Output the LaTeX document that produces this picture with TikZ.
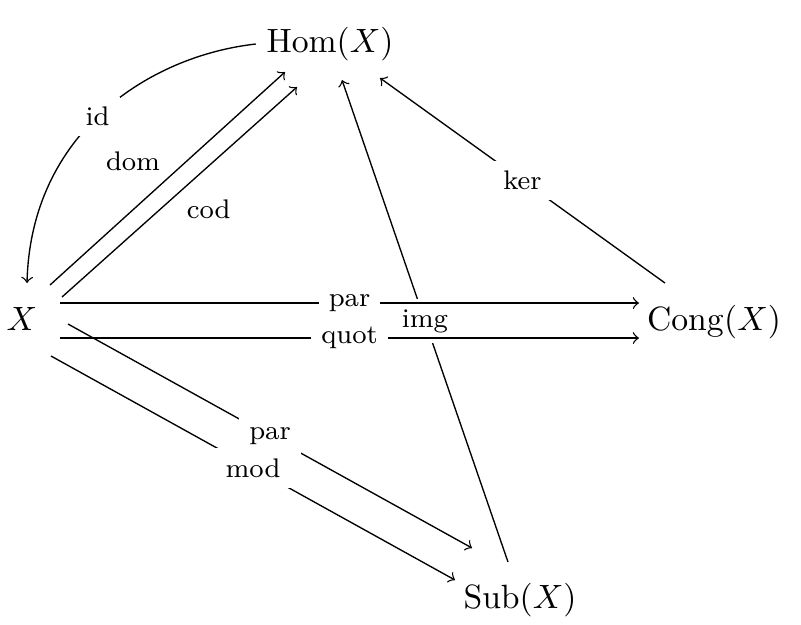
\documentclass[tikz,border=0pt]{standalone}
\usepackage{tikz}
\tikzstyle{obj}=[inner sep=3pt]
\tikzstyle{lbl}=[font=\footnotesize, inner sep=3pt, fill=white]
\tikzstyle{side}=[font=\footnotesize, inner sep=2pt]
\tikzstyle{edge}=[->]

\begin{document}
\begin{tikzpicture}[x=0.01043cm, y=-0.01043cm]
				\useasboundingbox (0,0) rectangle (801,624);

				%The objects
				\draw (22,319) node[obj] (X) {$X$};
				\draw (330,44) node[obj] (Hom) {$\mathrm{Hom}(X)$};
				\draw (714,322) node[obj] (Cong) {$\mathrm{Cong}(X)$};
				\draw (520,600) node[obj] (Sub) {$\mathrm{Sub}(X)$};

				%Into Hom(X)
				\draw[edge] (Hom.west) .. controls +(-107,12) and +(4,-150) .. node[lbl, pos=0.52] {id} ([shift={(5,-36)}]X.center);
				\draw[edge] ([shift={(28,-34)}]X.center) -- node[side, above left] {dom} ([shift={(-45,28)}]Hom.center);
				\draw[edge] ([shift={(40,-22)}]X.center) -- node[side, below right] {cod} ([shift={(-33,43)}]Hom.center);
				\draw[edge] ([shift={(-12,-38)}]Sub.center) -- node[lbl] {img} ([shift={(12,36)}]Hom.center);
				\draw[edge] ([shift={(-49,-39)}]Cong.center) -- node[lbl] {ker} ([shift={(50,34)}]Hom.center);

				%Into Cong(X)
				\draw[edge] ([shift={(38,-16)}]X.center) -- node[lbl] {par} ([shift={(-75,-19)}]Cong.center);
				\draw[edge] ([shift={(38,19)}]X.center) -- node[lbl] {quot} ([shift={(-75,16)}]Cong.center);

				%Into Sub(X)
				\draw[edge] ([shift={(46,5)}]X.center) -- node[lbl] {par} ([shift={(-48,-52)}]Sub.center);
				\draw[edge] ([shift={(29,37)}]X.center) -- node[lbl] {mod} ([shift={(-65,-20)}]Sub.center);
			\end{tikzpicture}
\end{document}
